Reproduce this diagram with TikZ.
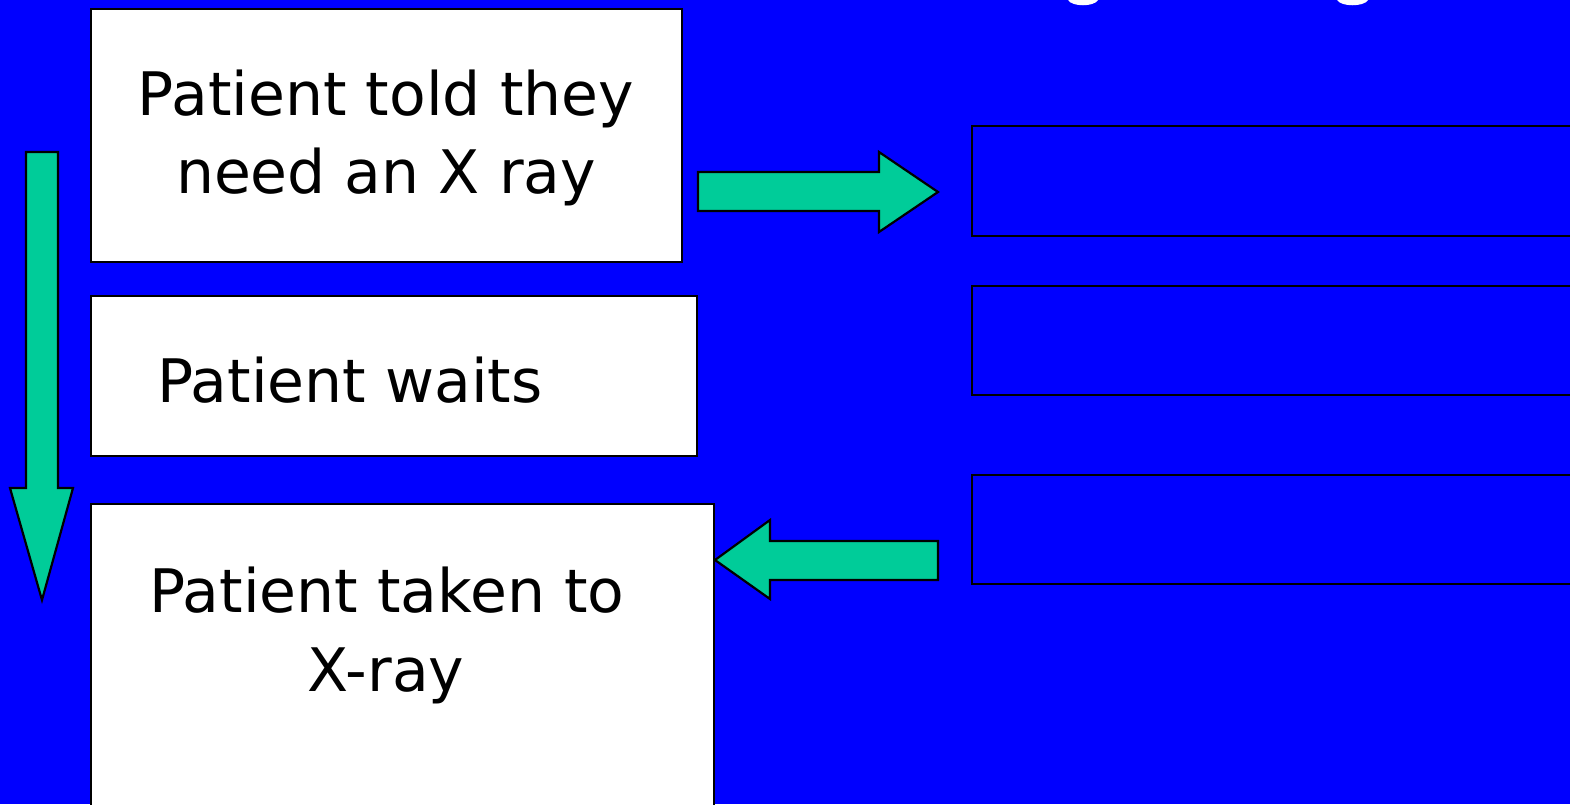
\documentclass[tikz,border=0pt]{standalone}
\usepackage{fontspec}
\setmainfont{DejaVu Sans}
\definecolor{bg}{RGB}{0,0,255}
\definecolor{arr}{RGB}{0,204,153}
\begin{document}
\begin{tikzpicture}[x=1pt,y=-1pt,
  box/.style={draw=black,line width=2pt,fill=white,inner sep=0pt,anchor=north west},
  emptybox/.style={draw=black,line width=2.2pt,fill=bg,inner sep=0pt,anchor=north west},
  blockarrow/.style={draw=black,line width=2.2pt,fill=arr,line join=miter},
  txt/.style={font=\fontsize{60}{78}\selectfont,anchor=base,inner sep=0pt,text=black},
  descender/.style={fill=white,draw=none}]
\useasboundingbox (0,0) rectangle (1570,804);
\clip (0,0) rectangle (1570,804);
\fill[bg] (0,0) rectangle (1570,804);

% cut-off title descenders at the top edge
\path[descender] (1068,0) .. controls (1072,7) and (1094,7) .. (1098,0) -- cycle;
\path[descender] (1337,0) .. controls (1341,7) and (1364,7) .. (1368,0) -- cycle;

% left boxes
\node[box,minimum width=591pt,minimum height=253pt] (b1) at (90,8) {};
\node[box,minimum width=606pt,minimum height=160pt] (b2) at (90,295) {};
\node[box,minimum width=623pt,minimum height=340pt] (b3) at (90,503) {};

% right empty boxes
\node[emptybox,minimum width=700pt,minimum height=110pt] (r1) at (971,125) {};
\node[emptybox,minimum width=700pt,minimum height=109pt] (r2) at (971,285) {};
\node[emptybox,minimum width=700pt,minimum height=109pt] (r3) at (971,474) {};

% texts
\node[txt] (t1a) at (386,115) {Patient told they};
\node[txt] (t1b) at (386,193) {need an X ray};
\node[txt,anchor=base west] (t2) at (157,402) {Patient waits};
\node[txt] (t3a) at (387,612) {Patient taken to};
\node[txt] (t3b) at (386,691) {X-ray};

% block arrows
\draw[blockarrow] (698,172) -- (879,172) -- (879,152) -- (938,192) -- (879,232) -- (879,211) -- (698,211) -- cycle;
\draw[blockarrow] (938,541) -- (770,541) -- (770,520) -- (715,560) -- (770,599) -- (770,580) -- (938,580) -- cycle;
\draw[blockarrow] (26,152) -- (58,152) -- (58,488) -- (73,488) -- (42,600) -- (10,488) -- (26,488) -- cycle;
\end{tikzpicture}
\end{document}
